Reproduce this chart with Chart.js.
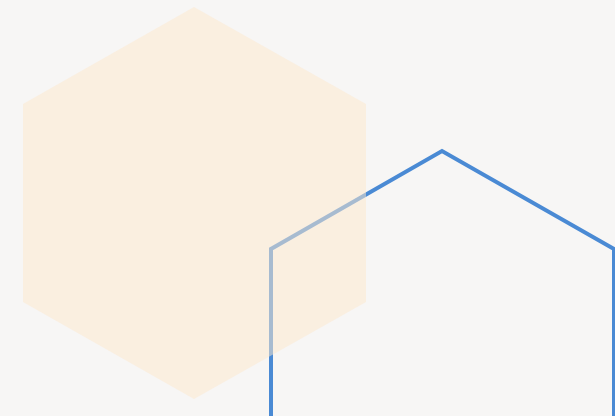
<!DOCTYPE html>
<html>
<head>
<meta charset="utf-8">
<script src="https://cdn.jsdelivr.net/npm/chart.js@4/dist/chart.umd.min.js"></script>
<style>
  html, body { margin: 0; padding: 0; background: #f7f6f5; }
  canvas { display: block; }
</style>
</head>
<body>
<canvas id="hexes" width="615" height="416"></canvas>
<script>
var ctx = document.getElementById('hexes');

// vertices, clockwise, in picture pixels (y grows downward)
var fillHexX = [194, 366, 366, 194, 23, 23, 194];
var fillHexY = [7, 104, 302, 399, 302, 104, 7];

var lineHexX = [442, 271, 271, 442, 614, 614, 442];
var lineHexY = [543, 445, 249, 151, 249, 445, 543];

function toPoints(xs, ys) {
  return xs.map(function (x, i) { return { x: x, y: ys[i] }; });
}

var data = {
  datasets: [
    {
      label: 'filled',
      data: toPoints(fillHexX, fillHexY),
      showLine: true,
      borderWidth: 0,
      borderColor: 'rgba(0,0,0,0)',
      backgroundColor: 'rgba(253, 232, 206, 0.52)',
      fill: 'shape',
      pointRadius: 0,
      tension: 0
    },
    {
      label: 'outline',
      data: toPoints(lineHexX, lineHexY),
      showLine: true,
      borderWidth: 4,
      borderColor: '#4a8ad4',
      borderJoinStyle: 'miter',
      fill: false,
      pointRadius: 0,
      tension: 0
    }
  ]
};

var chart = new Chart(ctx, {
  type: 'scatter',
  data: data,
  options: {
    responsive: false,
    animation: false,
    devicePixelRatio: 1,
    layout: { padding: 0 },
    plugins: {
      legend: { display: false },
      tooltip: { enabled: false }
    },
    scales: {
      x: { type: 'linear', min: 0, max: 615, display: false },
      y: { type: 'linear', min: 0, max: 416, reverse: true, display: false }
    }
  }
});
</script>
</body>
</html>
